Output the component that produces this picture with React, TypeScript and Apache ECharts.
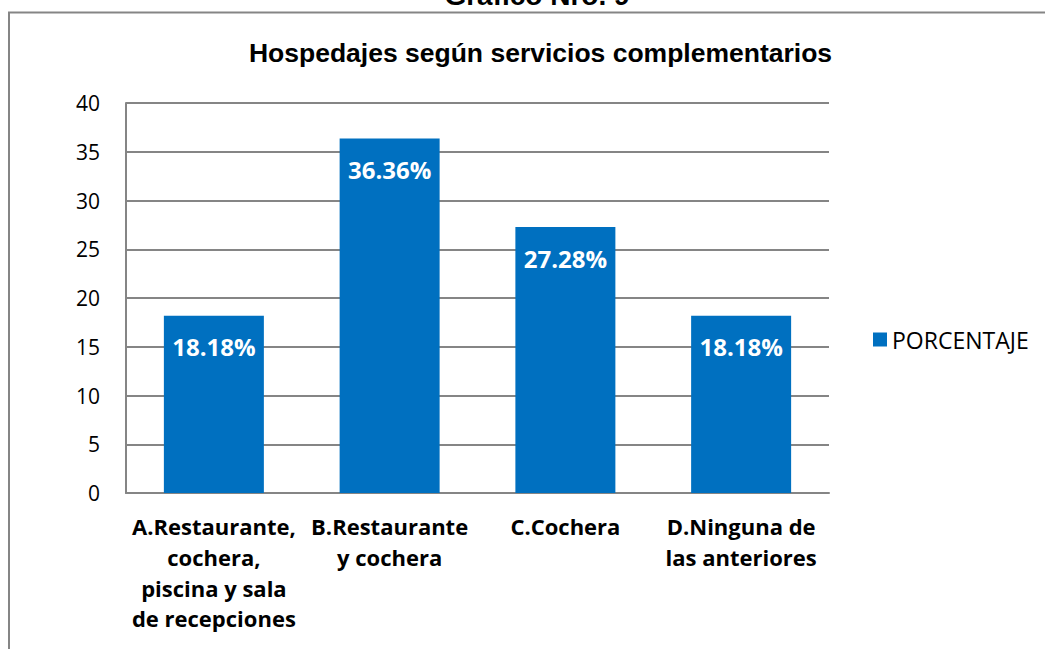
import React, { useEffect, useRef } from "react";
import * as echarts from "echarts";

const categories: string[] = [
  "A.Restaurante,\ncochera,\npiscina y sala\nde recepciones",
  "B.Restaurante\ny cochera",
  "C.Cochera",
  "D.Ninguna de\nlas anteriores",
];
const seriesName = "PORCENTAJE";
const values: number[] = [18.18, 36.36, 27.28, 18.18];
const yMin = 0;
const yMax = 40;
const yInterval = 5;
const chartTitle = "Hospedajes según servicios complementarios";
const pageHeading = "Gráfico Nro. 9";

export default function App() {
  const ref = useRef<HTMLDivElement>(null);
  useEffect(() => {
    if (!ref.current) return;
    const chart = echarts.init(ref.current, undefined, { renderer: "svg" });
    const grey = "#858585";
    chart.setOption({
      animation: false,
      backgroundColor: "#ffffff",
      title: {
        text: chartTitle,
        left: 535.5,
        textAlign: "center",
        top: 34,
        textStyle: {
          fontFamily: "Liberation Sans",
          fontWeight: "bold",
          fontSize: 26.5,
          color: "#000000",
        },
      },
      graphic: [
        {
          type: "rect",
          shape: { x: 9, y: 12.5, width: 1100, height: 700 },
          style: { fill: "none", stroke: grey, lineWidth: 2 },
          silent: true,
        },
        {
          type: "text",
          x: 537,
          y: -5,
          style: {
            text: pageHeading,
            fontFamily: "Liberation Sans",
            fontWeight: "bold",
            fontSize: 28,
            fill: "#000000",
            align: "center",
            verticalAlign: "middle",
          },
          silent: true,
        },
      ],
      legend: {
        data: [seriesName],
        left: 868,
        top: 323,
        orient: "vertical",
        icon: "rect",
        itemWidth: 14,
        itemHeight: 14,
        itemGap: 6,
        textStyle: {
          fontFamily: "Open Sans",
          fontSize: 23,
          color: "#000000",
        },
      },
      grid: {
        left: 126,
        right: 216,
        top: 103,
        bottom: 156,
        containLabel: false,
      },
      xAxis: {
        type: "category",
        data: categories,
        axisLine: { show: true, lineStyle: { color: grey, width: 2 } },
        axisTick: { show: false },
        axisLabel: {
          interval: 0,
          margin: 18,
          fontFamily: "Open Sans",
          fontWeight: "bold",
          fontSize: 22,
          lineHeight: 30.7,
          color: "#000000",
          align: "center",
        },
      },
      yAxis: {
        type: "value",
        min: yMin,
        max: yMax,
        interval: yInterval,
        axisLine: { show: true, lineStyle: { color: grey, width: 2 } },
        axisTick: { show: false },
        axisLabel: {
          margin: 26,
          fontFamily: "Open Sans",
          fontSize: 21,
          color: "#000000",
        },
        splitLine: { show: true, lineStyle: { color: grey, width: 2 } },
      },
      series: [
        {
          name: seriesName,
          type: "bar",
          data: values,
          barWidth: 100,
          itemStyle: { color: "#0070C0" },
          label: {
            show: true,
            position: "insideTop",
            distance: 19,
            formatter: (p: any) => `${p.value.toFixed(2)}%`,
            fontFamily: "Open Sans",
            fontWeight: "bold",
            fontSize: 24,
            color: "#ffffff",
          },
        },
      ],
    });
    return () => chart.dispose();
  }, []);
  return (
    <div
      ref={ref}
      style={{ position: "absolute", left: 0, top: 0, width: 1045, height: 649 }}
    />
  );
}
